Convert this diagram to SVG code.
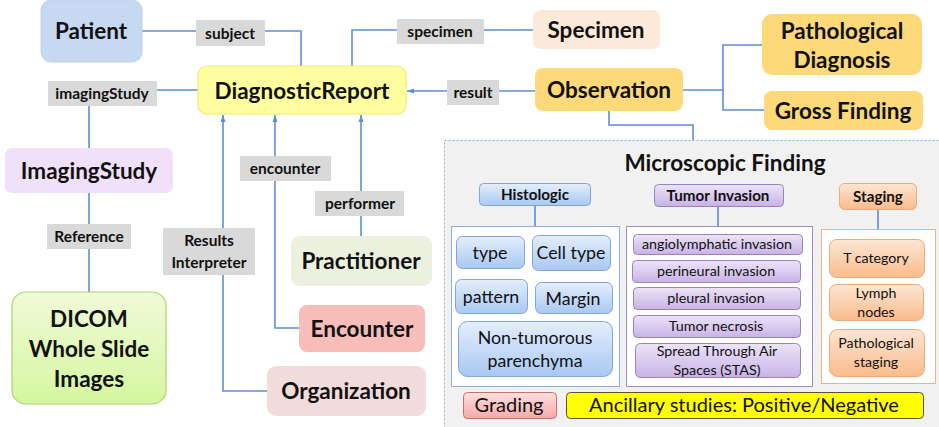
<svg xmlns="http://www.w3.org/2000/svg" width="939" height="427" viewBox="0 0 939 427">
<defs>
<style>
text{font-family:Lato,"Open Sans","Liberation Sans",sans-serif;fill:#111;text-anchor:middle}
.big{font-size:22.5px;font-weight:bold}
.lbl{font-size:15.5px;font-weight:bold}
.lblr{fill:#d9d9d9}
.con{fill:none;stroke:#5a8fd2;stroke-width:1.6}
.hb{fill:url(#gBlue);stroke:#7ea6d8;stroke-width:1}
.tp{fill:url(#gPurp);stroke:#9a82c0;stroke-width:1}
.so{fill:url(#gOrg);stroke:#f0a878;stroke-width:1}
.sm{font-size:17.8px}
.xs{font-size:14.3px}
.st{font-size:14.2px}
.hd{font-size:15.2px;font-weight:bold}
</style>
<linearGradient id="gBlue" x1="0" y1="0" x2="0" y2="1"><stop offset="0" stop-color="#e4eefc"/><stop offset="1" stop-color="#a9c8f2"/></linearGradient>
<linearGradient id="gPurp" x1="0" y1="0" x2="0" y2="1"><stop offset="0" stop-color="#ece4f8"/><stop offset="1" stop-color="#c8b2e6"/></linearGradient>
<linearGradient id="gOrg" x1="0" y1="0" x2="0" y2="1"><stop offset="0" stop-color="#fde6d2"/><stop offset="1" stop-color="#f9bb8c"/></linearGradient>
<linearGradient id="gGreen" x1="0" y1="0" x2="0" y2="1"><stop offset="0" stop-color="#effad8"/><stop offset="1" stop-color="#d6f6a0"/></linearGradient>
<linearGradient id="gRed" x1="0" y1="0" x2="0" y2="1"><stop offset="0" stop-color="#ffe0e0"/><stop offset="1" stop-color="#f7a8a8"/></linearGradient>
<marker id="arr" markerUnits="userSpaceOnUse" markerWidth="8" markerHeight="8" refX="7" refY="4" orient="auto"><path d="M0,1.5 L7,4 L0,6.5 Z" fill="#5a8fd2"/></marker>
</defs>

<g id="microscopic-area">
<rect x="444.5" y="140.5" width="500" height="290" fill="#f1f1f1" stroke="#8eaacc" stroke-width="1" stroke-dasharray="2,2"/>
<text x="725" y="171" class="big">Microscopic Finding</text>
</g>

<g id="connectors">
<path class="con" d="M142,31 H301 V66"/>
<path class="con" d="M198,90 H89 V148"/>
<path class="con" d="M89,193 V292"/>
<path class="con" d="M267,391 H223 V115" marker-end="url(#arr)"/>
<path class="con" d="M299,328 H275 V115" marker-end="url(#arr)"/>
<path class="con" d="M361,236 V115" marker-end="url(#arr)"/>
<path class="con" d="M352,66 V30 H533"/>
<path class="con" d="M535,91 H407" marker-end="url(#arr)"/>
<path class="con" d="M683,90 H723 M762,45 H723 V110 H764"/>
<path class="con" d="M609,111 V125 H693 V140"/>
<path class="con" d="M535,206 V226"/>
<path class="con" d="M718,206 V226"/>
<path class="con" d="M878,209 V229"/>
</g>

<g id="patient"><rect x="41" y="0" width="101" height="62" rx="10" fill="#c6d9f1" stroke="#bcd2ee"/><text x="91" y="39" class="big">Patient</text></g>
<g id="lbl-subject"><rect class="lblr" x="196" y="20" width="69" height="26"/><text x="230" y="38.5" class="lbl">subject</text></g>
<g id="diagnosticreport"><rect x="198" y="66" width="208" height="48" rx="9" fill="#ffffa0" stroke="#f2ea70" stroke-width="1.2"/><text x="302" y="98.5" class="big">DiagnosticReport</text></g>
<g id="lbl-imagingstudy"><rect class="lblr" x="48" y="81" width="109" height="25"/><text x="102" y="99" class="lbl">imagingStudy</text></g>
<g id="imagingstudy"><rect x="5" y="148" width="168" height="45" rx="7" fill="#f1e0f9"/><text x="89" y="178.5" class="big">ImagingStudy</text></g>
<g id="lbl-reference"><rect class="lblr" x="47" y="224" width="84" height="25"/><text x="89" y="242" class="lbl">Reference</text></g>
<g id="dicom"><rect x="12" y="292" width="154" height="112" rx="14" fill="url(#gGreen)" stroke="#a9d46f" stroke-width="1.2"/><text x="89" y="327" class="big">DICOM</text><text x="89" y="357" class="big">Whole Slide</text><text x="89" y="387" class="big">Images</text></g>
<g id="lbl-results"><rect class="lblr" x="163" y="228" width="92" height="47"/><text x="209" y="246" class="lbl">Results</text><text x="209" y="268" class="lbl">Interpreter</text></g>
<g id="lbl-encounter"><rect class="lblr" x="240" y="156" width="91" height="25"/><text x="285" y="174" class="lbl">encounter</text></g>
<g id="lbl-performer"><rect class="lblr" x="315" y="191" width="89" height="25"/><text x="360" y="209" class="lbl">performer</text></g>
<g id="practitioner"><rect x="291" y="236" width="141" height="50" rx="9" fill="#ebf1de"/><text x="361" y="269" class="big">Practitioner</text></g>
<g id="encounter"><rect x="299" y="305" width="126" height="47" rx="8" fill="#f6bdb9"/><text x="362" y="336.5" class="big">Encounter</text></g>
<g id="organization"><rect x="267" y="366" width="159" height="50" rx="9" fill="#f2dcdb"/><text x="346" y="399" class="big">Organization</text></g>
<g id="lbl-specimen"><rect class="lblr" x="397" y="19" width="87" height="25"/><text x="440" y="37" class="lbl">specimen</text></g>
<g id="specimen"><rect x="533" y="10" width="127" height="39" rx="8" fill="#fde9d9"/><text x="596" y="37.5" class="big">Specimen</text></g>
<g id="lbl-result"><rect class="lblr" x="447" y="80" width="52" height="25"/><text x="473" y="98" class="lbl">result</text></g>
<g id="observation"><rect x="535" y="68" width="148" height="43" rx="8" fill="#fdd97a"/><text x="609" y="97.5" class="big">Observation</text></g>
<g id="pathological-diagnosis"><rect x="762" y="14" width="160" height="61" rx="10" fill="#fdd97a"/><text x="842" y="39" class="big">Pathological</text><text x="842" y="68" class="big">Diagnosis</text></g>
<g id="gross-finding"><rect x="764" y="91" width="159" height="39" rx="8" fill="#fdd97a"/><text x="843" y="118.5" class="big">Gross Finding</text></g>

<g id="histologic">
<rect x="479.5" y="183.5" width="111" height="22" rx="4" class="hb"/><text x="535" y="200" class="hd">Histologic</text>
<rect x="451.5" y="226.5" width="168" height="160" fill="#fff" stroke="#8eb0dc"/>
<rect x="456.5" y="236.5" width="68" height="32" rx="6" class="hb"/><text x="490" y="258.5" class="sm">type</text>
<rect x="532.5" y="235.5" width="78" height="35" rx="6" class="hb"/><text x="571" y="258.5" class="sm">Cell type</text>
<rect x="455.5" y="279.5" width="72" height="34" rx="6" class="hb"/><text x="491" y="302.5" class="sm">pattern</text>
<rect x="535.5" y="282.5" width="77" height="31" rx="6" class="hb"/><text x="573" y="304.5" class="sm">Margin</text>
<rect x="458.5" y="321.5" width="154" height="55" rx="9" class="hb"/><text x="535" y="343.5" class="sm">Non-tumorous</text><text x="535" y="366.5" class="sm">parenchyma</text>
</g>

<g id="tumor-invasion">
<rect x="654.5" y="184.5" width="129" height="22" rx="4" class="tp"/><text x="718" y="201" class="hd">Tumor Invasion</text>
<rect x="626.5" y="226.5" width="186" height="160" fill="#fff" stroke="#a58cc4"/>
<rect x="633.5" y="234.5" width="169" height="20" rx="4" class="tp"/><text x="717" y="249" class="xs">angiolymphatic invasion</text>
<rect x="632.5" y="260.5" width="168" height="22" rx="4" class="tp"/><text x="716" y="276" class="xs">perineural invasion</text>
<rect x="633.5" y="287.5" width="167" height="22" rx="4" class="tp"/><text x="716" y="303" class="xs">pleural invasion</text>
<rect x="633.5" y="315.5" width="167" height="22" rx="4" class="tp"/><text x="716" y="331" class="xs">Tumor necrosis</text>
<rect x="635.5" y="343.5" width="165" height="34" rx="5" class="tp"/><text x="717" y="356" class="xs">Spread Through Air</text><text x="717" y="375" class="xs">Spaces (STAS)</text>
</g>

<g id="staging">
<rect x="839.5" y="183.5" width="77" height="26" rx="5" class="so"/><text x="878" y="202" class="hd">Staging</text>
<rect x="821.5" y="229.5" width="114" height="154" fill="#fff" stroke="#f4b183"/>
<rect x="829.5" y="239.5" width="95" height="38" rx="7" class="so"/><text x="876" y="263" class="st">T category</text>
<rect x="829.5" y="284.5" width="94" height="36" rx="7" class="so"/><text x="876" y="298" class="st">Lymph</text><text x="876" y="317" class="st">nodes</text>
<rect x="829.5" y="329.5" width="95" height="47" rx="8" class="so"/><text x="876" y="348" class="st">Pathological</text><text x="876" y="367" class="st">staging</text>
</g>

<g id="grading"><rect x="463.5" y="392.5" width="93" height="26" rx="4" fill="url(#gRed)" stroke="#c87070"/><text x="509" y="412" style="font-size:20px">Grading</text></g>
<g id="ancillary"><rect x="566.5" y="392.5" width="357" height="26" rx="4" fill="#ffff00" stroke="#555533"/><text x="744" y="412" style="font-size:20px">Ancillary studies: Positive/Negative</text></g>
</svg>
